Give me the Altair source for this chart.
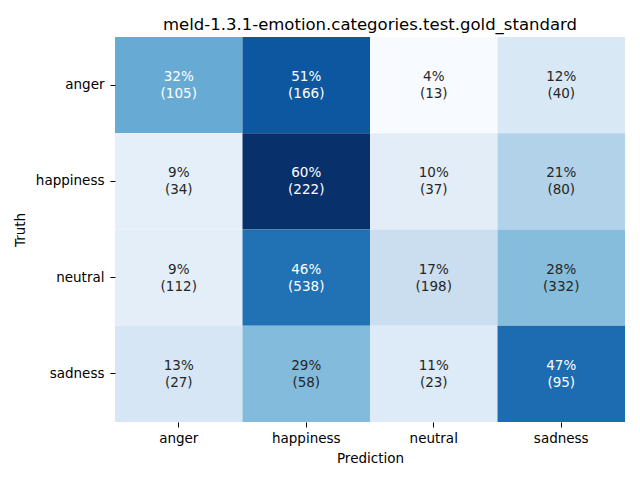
import altair as alt
import pandas as pd

labels = ["anger", "happiness", "neutral", "sadness"]
counts_anger = [105, 166, 13, 40]
counts_happiness = [34, 222, 37, 80]
counts_neutral = [112, 538, 198, 332]
counts_sadness = [27, 58, 23, 95]
rows = [counts_anger, counts_happiness, counts_neutral, counts_sadness]

blues = ["#f7fbff", "#deebf7", "#c6dbef", "#9ecae1", "#6baed6",
         "#4292c6", "#2171b5", "#08519c", "#08306b"]

recs = []
for t, row in zip(labels, rows):
    tot = sum(row)
    for p, c in zip(labels, row):
        frac = c / tot
        recs.append({"Truth": t, "Prediction": p, "frac": frac,
                     "label": f"{round(frac*100):.0f}%\n({c})"})
df = pd.DataFrame(recs)
vmin, vmax = df["frac"].min(), df["frac"].max()
domain = [vmin + (vmax - vmin) * i / 8 for i in range(9)]

FONT = "DejaVu Sans"

base = alt.Chart(df)
rect = base.mark_rect().encode(
    x=alt.X("Prediction:N", sort=labels, scale=alt.Scale(paddingInner=0, paddingOuter=0),
            axis=alt.Axis(title="Prediction", labelAngle=0, domain=False, tickSize=5,
                          tickColor="black", labelPadding=4, labelFontSize=13.5,
                          titleFontSize=13.5, titleFontWeight="normal", titlePadding=7,
                          labelColor="black", titleColor="black", labelFont=FONT, titleFont=FONT)),
    y=alt.Y("Truth:N", sort=labels, scale=alt.Scale(paddingInner=0, paddingOuter=0),
            axis=alt.Axis(title="Truth", domain=False, tickSize=5, tickColor="black",
                          labelPadding=6, labelFontSize=13.5, titleFontSize=13.5,
                          titleFontWeight="normal", titlePadding=8,
                          labelColor="black", titleColor="black", labelFont=FONT, titleFont=FONT)),
    color=alt.Color("frac:Q", scale=alt.Scale(domain=domain, range=blues, interpolate="rgb"),
                    legend=None),
)
text = base.mark_text(lineBreak="\n", lineHeight=17, fontSize=13.5, font=FONT, baseline="middle", dy=-8).encode(
    x=alt.X("Prediction:N", sort=labels),
    y=alt.Y("Truth:N", sort=labels),
    text="label:N",
    color=alt.condition(alt.datum.frac > 0.30, alt.value("white"), alt.value("#262626")),
)

chart = (rect + text).properties(
    width=510, height=385,
    title=alt.TitleParams("meld-1.3.1-emotion.categories.test.gold_standard",
                          fontSize=16.5, fontWeight="normal", font=FONT, color="black",
                          anchor="middle", offset=4),
    autosize=alt.AutoSizeParams(type="none"),
    padding={"left": 115, "top": 37, "right": 15, "bottom": 58},
).configure_view(stroke=None)

chart.save("out.html", embed_options={"renderer": "svg", "actions": False})
